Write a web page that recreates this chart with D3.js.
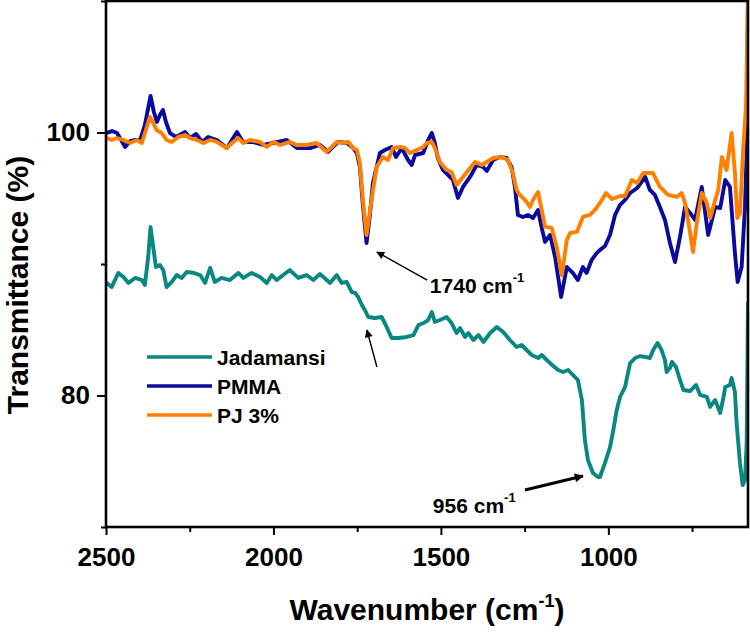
<!DOCTYPE html>
<html><head><meta charset="utf-8">
<script src="https://cdn.jsdelivr.net/npm/d3@7"></script>
<style>
body{margin:0;background:#fff}
svg{display:block}
text{font-family:"Liberation Sans",Arial,sans-serif;font-weight:bold;fill:#000}
</style>
</head><body>
<svg id="chart" width="750" height="632"></svg>
<script>
// ---- data: [wavenumber (cm-1), transmittance (%)] ----
const seriesNames = ["Jadamansi", "PMMA", "PJ 3%"];
const seriesColors = ["#0b8781", "#0a0a9c", "#ff8000"];

const jadamansi = [[2498,88.56],[2483,88.25],[2463,89.32],[2448,89.01],[2433,88.56],[2413,88.94],[2393,88.78],[2384,88.40],[2374,90.53],[2367,92.81],[2359,91.29],[2351,89.77],[2339,89.92],[2329,89.54],[2319,88.25],[2304,88.63],[2289,89.16],[2274,88.94],[2259,89.39],[2239,89.32],[2219,89.16],[2204,88.56],[2189,89.70],[2175,88.63],[2155,88.94],[2130,88.78],[2105,89.32],[2090,88.94],[2065,89.32],[2040,89.01],[2020,88.56],[2005,89.16],[1990,88.78],[1971,89.16],[1951,89.54],[1926,88.94],[1901,89.16],[1881,88.78],[1861,89.24],[1831,88.56],[1811,89.16],[1796,88.56],[1781,88.63],[1766,87.87],[1756,87.80],[1747,87.49],[1736,86.88],[1727,86.50],[1717,85.97],[1697,85.89],[1677,85.97],[1662,85.21],[1647,84.37],[1627,84.37],[1602,84.45],[1582,84.60],[1567,85.36],[1552,85.51],[1538,85.74],[1527,86.35],[1518,85.59],[1503,85.74],[1483,85.97],[1468,85.51],[1453,84.75],[1443,85.13],[1428,84.45],[1418,84.75],[1403,84.22],[1388,84.60],[1373,84.07],[1353,84.75],[1333,85.21],[1314,84.83],[1294,84.22],[1274,83.69],[1259,83.84],[1244,83.46],[1229,83.08],[1209,82.85],[1199,83.08],[1184,82.70],[1168,82.32],[1150,81.94],[1135,81.79],[1120,81.94],[1106,81.56],[1091,81.18],[1079,79.66],[1070,76.62],[1061,75.10],[1046,74.11],[1031,73.80],[1025,73.80],[1010,74.87],[995,76.08],[985,77.38],[975,78.90],[965,79.89],[950,80.65],[935,82.47],[920,82.85],[905,83.00],[890,82.93],[876,82.85],[866,83.46],[853,83.99],[841,83.46],[831,82.70],[826,81.79],[816,82.09],[810,82.55],[798,82.17],[786,81.18],[776,80.42],[756,80.34],[738,80.80],[726,80.04],[706,79.89],[696,79.13],[681,79.66],[666,78.67],[656,79.89],[651,80.65],[637,80.80],[632,81.33],[622,80.27],[617,77.91],[607,74.87],[599,73.19],[592,73.57],[587,76.39],[583,87.03]];

const pmma = [[2500,99.96],[2482,100.11],[2467,99.96],[2455,99.43],[2443,98.90],[2428,99.35],[2413,99.43],[2398,99.43],[2384,100.57],[2367,102.78],[2357,101.56],[2348,100.80],[2339,101.33],[2330,101.71],[2321,100.80],[2309,99.96],[2291,99.66],[2264,100.04],[2249,99.58],[2231,99.89],[2213,99.28],[2195,99.66],[2169,99.43],[2139,98.82],[2124,99.43],[2109,100.04],[2091,99.28],[2061,99.28],[2031,99.05],[2001,99.20],[1960,99.43],[1930,98.82],[1891,98.82],[1861,99.05],[1837,98.52],[1807,99.28],[1780,99.20],[1762,98.82],[1751,98.44],[1742,97.38],[1733,94.49],[1722,91.60],[1712,93.73],[1703,96.16],[1682,98.44],[1667,98.67],[1647,98.90],[1634,98.14],[1617,98.82],[1598,97.91],[1587,97.53],[1577,98.29],[1553,98.44],[1538,99.43],[1527,99.96],[1518,99.20],[1509,98.06],[1494,97.15],[1479,96.77],[1464,96.39],[1449,95.02],[1434,95.86],[1413,96.62],[1393,97.53],[1374,97.38],[1363,97.07],[1344,97.91],[1324,98.14],[1304,98.06],[1289,97.38],[1279,95.86],[1270,93.73],[1255,93.57],[1240,93.73],[1225,93.50],[1210,94.11],[1199,92.75],[1189,91.68],[1174,92.21],[1159,90.53],[1150,89.01],[1141,87.49],[1124,89.77],[1106,89.32],[1091,88.78],[1076,89.77],[1065,89.32],[1050,90.30],[1035,90.83],[1025,91.06],[1010,91.37],[995,92.21],[980,93.73],[965,94.49],[950,94.87],[935,95.40],[914,95.78],[890,96.62],[876,95.63],[861,95.25],[846,94.34],[831,93.35],[816,91.60],[801,90.15],[786,92.06],[771,94.34],[756,93.88],[741,93.35],[721,95.86],[702,92.21],[681,94.34],[666,94.26],[651,96.39],[637,95.86],[622,90.83],[614,88.63],[602,89.77],[592,94.34],[587,98.52],[583,110.5]];

const pj3 = [[2498,99.58],[2483,99.43],[2468,99.58],[2448,99.43],[2428,99.20],[2408,99.43],[2393,99.20],[2378,100.42],[2369,101.18],[2359,100.72],[2349,100.19],[2334,99.96],[2319,99.43],[2304,99.28],[2284,99.66],[2264,99.81],[2249,99.58],[2229,99.43],[2209,99.20],[2189,99.43],[2169,99.28],[2140,98.82],[2120,99.28],[2105,99.58],[2090,99.20],[2070,99.43],[2040,99.28],[2020,98.90],[2000,99.28],[1980,99.05],[1951,99.28],[1931,99.05],[1901,99.05],[1871,99.20],[1841,98.52],[1811,99.28],[1791,99.20],[1776,99.28],[1762,98.82],[1751,98.67],[1742,97.68],[1733,94.87],[1722,92.21],[1707,94.87],[1692,97.38],[1673,98.14],[1658,97.91],[1643,98.82],[1622,98.90],[1607,98.82],[1592,98.44],[1572,98.67],[1553,98.90],[1542,99.20],[1527,99.28],[1518,98.82],[1503,97.76],[1483,97.15],[1468,97.00],[1453,96.01],[1434,96.62],[1413,97.30],[1398,97.76],[1378,97.53],[1363,97.76],[1344,98.06],[1318,98.14],[1300,97.91],[1285,96.92],[1274,95.63],[1264,95.25],[1244,94.72],[1234,94.34],[1225,94.87],[1210,95.48],[1199,94.11],[1189,92.82],[1169,92.75],[1154,91.29],[1139,89.16],[1124,91.83],[1114,92.36],[1094,92.44],[1076,93.58],[1055,93.73],[1040,94.11],[1025,94.64],[1007,95.40],[989,94.94],[965,95.17],[950,95.17],[930,96.39],[914,96.16],[896,96.92],[867,96.92],[846,95.86],[822,95.25],[796,95.10],[781,95.40],[771,94.64],[762,93.35],[747,90.91],[736,93.12],[721,95.40],[706,94.64],[696,93.50],[681,94.87],[672,95.63],[661,98.14],[647,97.15],[632,99.96],[622,96.92],[615,93.50],[607,93.88],[597,98.90],[589,101.94],[583,110.5]];

const xMajorTicks = [2500, 2000, 1500, 1000];
const xMinorTicks = [2250, 1750, 1250, 750];
const yMajorTicks = [80, 100];
const yMinorTicks = [70, 90, 110];
const xDomain = [2500, 583];
const yDomain = [70, 110];

// annotations in data coordinates
const peakLabels = [
  {main: "1740 cm", sup: "-1", wn: 1533, t: 87.79},
  {main: "956 cm", sup: "-1", wn: 1524, t: 71.06}
];
const arrows = [
  {from: [1541, 88.78], to: [1691, 90.91], w: 1.4, head: "thin"},
  {from: [1691, 82.17], to: [1721, 84.98], w: 1.4, head: "thin"},
  {from: [1249, 72.81], to: [1076, 73.88], w: 3.2, head: "thick"}
];

// ---- chart ----
const svg = d3.select("#chart");
const L = 106, R = 748, T = 1, B = 527;
const x = d3.scaleLinear().domain(xDomain).range([L, R]);
const y = d3.scaleLinear().domain(yDomain).range([B, T]);

const defs = svg.append("defs");
defs.append("clipPath").attr("id", "clip").append("rect")
  .attr("x", L).attr("y", 0).attr("width", R - L + 1).attr("height", B);
defs.append("marker").attr("id", "thin").attr("viewBox", "0 0 10 10")
  .attr("refX", 9).attr("refY", 5).attr("markerUnits", "userSpaceOnUse")
  .attr("markerWidth", 10).attr("markerHeight", 8).attr("orient", "auto")
  .append("path").attr("d", "M0,0 L10,5 L0,10 Z").attr("fill", "#000");
defs.append("marker").attr("id", "thick").attr("viewBox", "0 0 10 10")
  .attr("refX", 9).attr("refY", 5).attr("markerUnits", "userSpaceOnUse")
  .attr("markerWidth", 14).attr("markerHeight", 9).attr("orient", "auto")
  .append("path").attr("d", "M0,0 L10,5 L0,10 Z").attr("fill", "#000");

const line = d3.line().x(d => x(d[0])).y(d => y(d[1]));
const allSeries = [jadamansi, pmma, pj3];
const gLines = svg.append("g").attr("clip-path", "url(#clip)");
allSeries.forEach((s, i) => {
  gLines.append("path").datum(s)
    .attr("d", line).attr("fill", "none")
    .attr("stroke", seriesColors[i]).attr("stroke-width", 3.9)
    .attr("stroke-linejoin", "round").attr("stroke-linecap", "round");
});

// axes
const xAxis = svg.append("g").attr("transform", `translate(0,${B})`)
  .call(d3.axisBottom(x).tickValues(xMajorTicks).tickSize(8).tickPadding(13).tickFormat(d3.format("d")));
const xAxisMinor = svg.append("g").attr("transform", `translate(0,${B})`)
  .call(d3.axisBottom(x).tickValues(xMinorTicks).tickSize(5).tickFormat(""));
const yAxis = svg.append("g").attr("transform", `translate(${L},0)`)
  .call(d3.axisLeft(y).tickValues(yMajorTicks).tickSize(9).tickPadding(7).tickFormat(d3.format("d")));
const yAxisMinor = svg.append("g").attr("transform", `translate(${L},0)`)
  .call(d3.axisLeft(y).tickValues(yMinorTicks).tickSize(5).tickFormat(""));
[xAxis, xAxisMinor, yAxis, yAxisMinor].forEach(g => {
  g.select(".domain").remove();
  g.selectAll(".tick line").attr("stroke", "#000").attr("stroke-width", 2);
  g.selectAll(".tick text").style("font-size", "26px").style("font-weight", "bold")
    .style("font-family", '"Liberation Sans",Arial,sans-serif').attr("fill", "#000");
});

// frame
svg.append("rect").attr("x", L).attr("y", T).attr("width", R - L).attr("height", B - T)
  .attr("fill", "none").attr("stroke", "#000").attr("stroke-width", 2.6);

// axis titles
const xt = svg.append("text").attr("x", (L + R) / 2).attr("y", 620)
  .attr("text-anchor", "middle").style("font-size", "30px");
xt.append("tspan").text("Wavenumber (cm");
xt.append("tspan").text("-1").style("font-size", "18px").attr("dy", -13);
xt.append("tspan").text(")").attr("dy", 13);

svg.append("text").attr("transform", "translate(28,285) rotate(-90)")
  .attr("text-anchor", "middle").style("font-size", "30px").text("Transmittance (%)");

// legend
const legend = svg.append("g");
seriesNames.forEach((n, i) => {
  const ly = 357 + i * 29;
  legend.append("line").attr("x1", 147).attr("x2", 212).attr("y1", ly).attr("y2", ly)
    .attr("stroke", seriesColors[i]).attr("stroke-width", 3.6);
  legend.append("text").attr("x", 217).attr("y", ly).attr("dy", "0.36em")
    .style("font-size", "21px").text(n);
});

// annotations
peakLabels.forEach(p => {
  const t = svg.append("text").attr("x", x(p.wn)).attr("y", y(p.t)).style("font-size", "21px");
  t.append("tspan").text(p.main);
  t.append("tspan").text(p.sup).style("font-size", "13px").attr("dy", -11);
});
arrows.forEach(a => {
  svg.append("line")
    .attr("x1", x(a.from[0])).attr("y1", y(a.from[1]))
    .attr("x2", x(a.to[0])).attr("y2", y(a.to[1]))
    .attr("stroke", "#000").attr("stroke-width", a.w)
    .attr("marker-end", `url(#${a.head})`);
});
</script>
</body></html>
